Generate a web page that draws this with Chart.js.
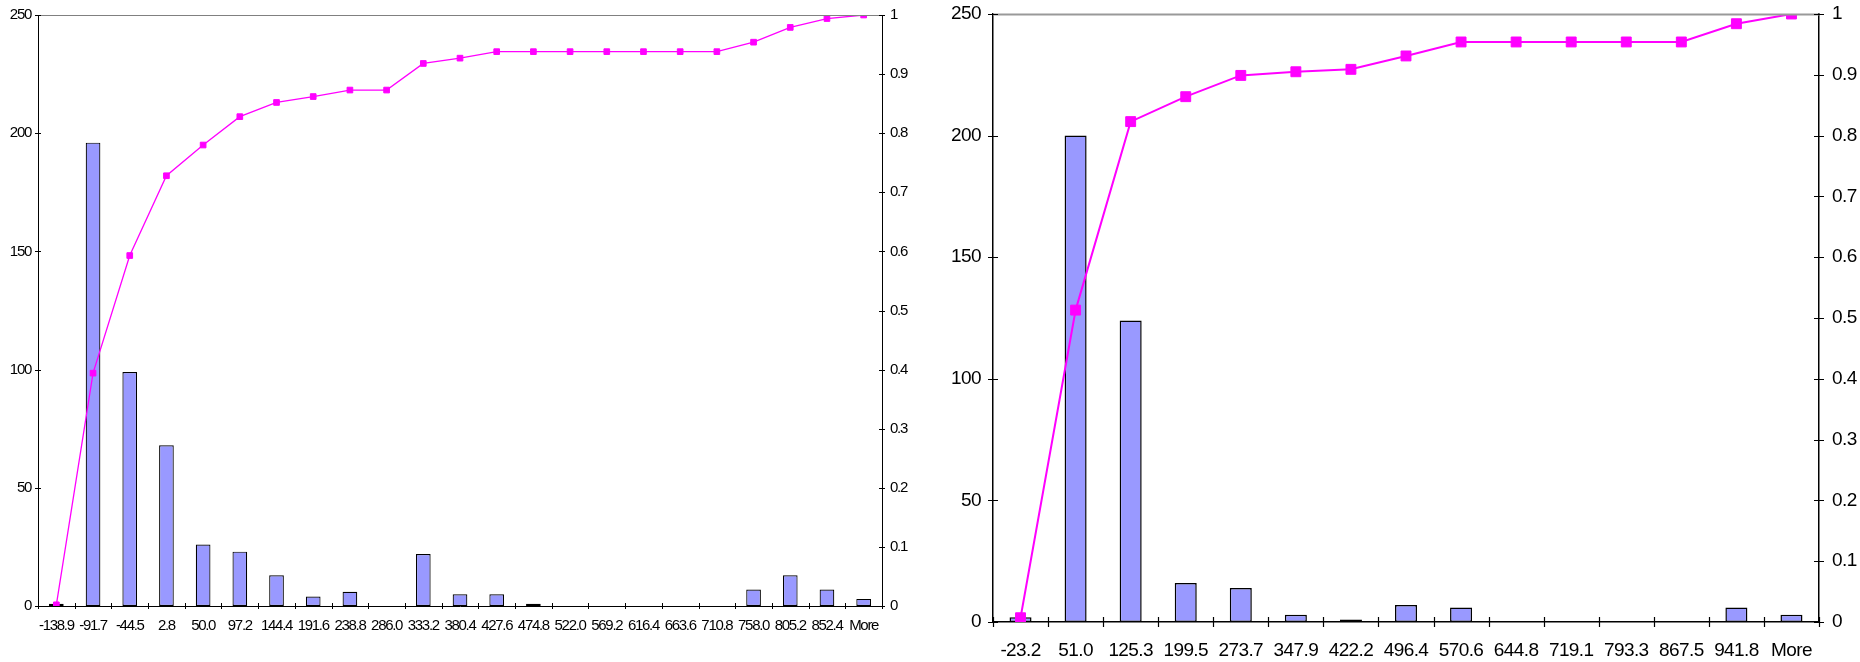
<!DOCTYPE html>
<html>
<head>
<meta charset="utf-8">
<title>Histogram with cumulative share</title>
<script src="https://cdn.jsdelivr.net/npm/chart.js@4.4.1/dist/chart.umd.min.js"></script>
<style>
  html, body { margin: 0; padding: 0; background: #fff; }
  body { width: 1860px; height: 662px; position: relative; overflow: hidden; }
  canvas { position: absolute; top: 0; }
  #histA { left: 0; }
  #histB { left: 930px; }
</style>
</head>
<body>
<canvas id="histA" width="930" height="662"></canvas>
<canvas id="histB" width="930" height="662"></canvas>
<script>
// ---- first histogram: bins, frequencies, cumulative share ----
const binsA = ['-138.9', '-91.7', '-44.5', '2.8', '50.0', '97.2', '144.4', '191.6', '238.8', '286.0',
  '333.2', '380.4', '427.6', '474.8', '522.0', '569.2', '616.4', '663.6', '710.8', '758.0',
  '805.2', '852.4', 'More'];
const freqA = [1, 196, 99, 68, 26, 23, 13, 4, 6, 0, 22, 5, 5, 1, 0, 0, 0, 0, 0, 7, 13, 7, 3];
const cumA = [0.002, 0.394, 0.593, 0.728, 0.780, 0.828, 0.852, 0.862, 0.873, 0.873, 0.918, 0.927,
  0.938, 0.938, 0.938, 0.938, 0.938, 0.938, 0.938, 0.954, 0.979, 0.994, 1.000];

// ---- second histogram ----
const binsB = ['-23.2', '51.0', '125.3', '199.5', '273.7', '347.9', '422.2', '496.4', '570.6',
  '644.8', '719.1', '793.3', '867.5', '941.8', 'More'];
const freqB = [2, 200, 124, 16, 14, 3, 1, 7, 6, 0, 0, 0, 0, 6, 3];
const cumB = [0.007, 0.513, 0.823, 0.864, 0.899, 0.905, 0.909, 0.931, 0.954, 0.954, 0.954, 0.954,
  0.954, 0.984, 1.000];

// ---- axis tick labels ----
const countTicks = ['0', '50', '100', '150', '200', '250'];
const shareTicks = ['0', '0.1', '0.2', '0.3', '0.4', '0.5', '0.6', '0.7', '0.8', '0.9', '1'];

// Frame: grey top edge, axis tick marks that cross the axis lines, condensed label text.
const framePlugin = {
  id: 'frame',
  beforeDraw(chart, args, opts) {
    chart.ctx.letterSpacing = opts.letterSpacing || '0px';
  },
  afterDraw(chart, args, opts) {
    const ctx = chart.ctx;
    const area = chart.chartArea;
    const a = v => Math.round(v) + 0.5;
    ctx.save();
    ctx.letterSpacing = '0px';
    // top edge of the plot
    ctx.strokeStyle = opts.topColor;
    ctx.lineWidth = opts.topWidth;
    ctx.beginPath();
    ctx.moveTo(area.left, a(area.top));
    ctx.lineTo(area.right, a(area.top));
    ctx.stroke();

    ctx.strokeStyle = '#000';
    ctx.lineWidth = opts.tickWidth;
    const k = opts.tickHalf;
    ctx.beginPath();
    // category boundaries on the x axis
    const x = chart.scales.x;
    const n = chart.data.labels.length;
    const half = (x.getPixelForValue(1) - x.getPixelForValue(0)) / 2;
    for (let i = 0; i <= n; i++) {
      const px = a(x.getPixelForValue(i) - half);
      ctx.moveTo(px, area.bottom - k);
      ctx.lineTo(px, area.bottom + k);
    }
    // value ticks on both y axes
    [['y', area.left], ['y1', area.right]].forEach(([id, ax]) => {
      const s = chart.scales[id];
      s.ticks.forEach(t => {
        const py = a(s.getPixelForValue(t.value));
        ctx.moveTo(ax - k, py);
        ctx.lineTo(ax + k, py);
      });
    });
    ctx.stroke();
    ctx.restore();
  }
};

function makeHistogram(canvasId, bins, freq, cum, look) {
  const font = { family: "'Liberation Sans', Arial, sans-serif", size: look.fontSize };
  const fitY = w => s => { s.width = w; s.paddingTop = 0; s.paddingBottom = 0; };
  return new Chart(document.getElementById(canvasId), {
    data: {
      labels: bins,
      datasets: [
        {
          type: 'line',
          data: cum,
          yAxisID: 'y1',
          order: 0,
          borderColor: '#ff00ff',
          borderWidth: look.lineWidth,
          tension: 0,
          pointStyle: 'rect',
          pointRadius: look.pointRadius,
          pointBackgroundColor: '#ff00ff',
          pointBorderColor: '#ff00ff',
          pointBorderWidth: 1
        },
        {
          type: 'bar',
          data: freq,
          yAxisID: 'y',
          order: 1,
          backgroundColor: '#9999ff',
          borderColor: '#000',
          borderWidth: look.barBorder,
          borderSkipped: false,
          categoryPercentage: 1,
          barPercentage: 0.4
        }
      ]
    },
    options: {
      responsive: false,
      animation: false,
      layout: { padding: { top: look.top, left: 0, right: 0, bottom: 0 } },
      plugins: {
        legend: { display: false },
        tooltip: { enabled: false },
        frame: look.frame
      },
      scales: {
        x: {
          type: 'category',
          offset: true,
          grid: { display: false, drawTicks: false, tickLength: 0, offset: true },
          border: { display: true, color: '#000', width: look.axisWidth },
          ticks: { font, color: '#000', padding: look.xPad, maxRotation: 0, autoSkip: false },
          afterFit(s) { s.height = look.xHeight; s.paddingLeft = 0; s.paddingRight = 0; }
        },
        y: {
          position: 'left',
          min: 0, max: 250,
          grid: { display: false, drawTicks: false, tickLength: 0 },
          border: { display: true, color: '#000', width: look.axisWidth },
          ticks: { stepSize: 50, font, color: '#000', padding: look.yPad,
            callback: (v, i) => countTicks[i] },
          afterFit: fitY(look.leftWidth)
        },
        y1: {
          position: 'right',
          min: 0, max: 1,
          grid: { display: false, drawTicks: false, tickLength: 0 },
          border: { display: true, color: '#000', width: look.axisWidth },
          ticks: { stepSize: 0.1, font, color: '#000', padding: look.y1Pad,
            callback: (v, i) => shareTicks[i] },
          afterFit: fitY(look.rightWidth)
        }
      }
    },
    plugins: [framePlugin]
  });
}

makeHistogram('histA', binsA, freqA, cumA, {
  fontSize: 15, lineWidth: 1.3, pointRadius: 4, barBorder: 1.2, axisWidth: 1,
  top: 15, xHeight: 56, leftWidth: 38, rightWidth: 48,
  xPad: 11, yPad: 7, y1Pad: 8,
  frame: { letterSpacing: '-1.3px', topColor: '#808080', topWidth: 1, tickWidth: 1, tickHalf: 3 }
});

makeHistogram('histB', binsB, freqB, cumB, {
  fontSize: 19, lineWidth: 2, pointRadius: 7, barBorder: 1.5, axisWidth: 1.5,
  top: 14, xHeight: 40, leftWidth: 63, rightWidth: 41,
  xPad: 17, yPad: 12, y1Pad: 13,
  frame: { letterSpacing: '-0.6px', topColor: '#999999', topWidth: 2, tickWidth: 1.2, tickHalf: 5 }
});
</script>
</body>
</html>
